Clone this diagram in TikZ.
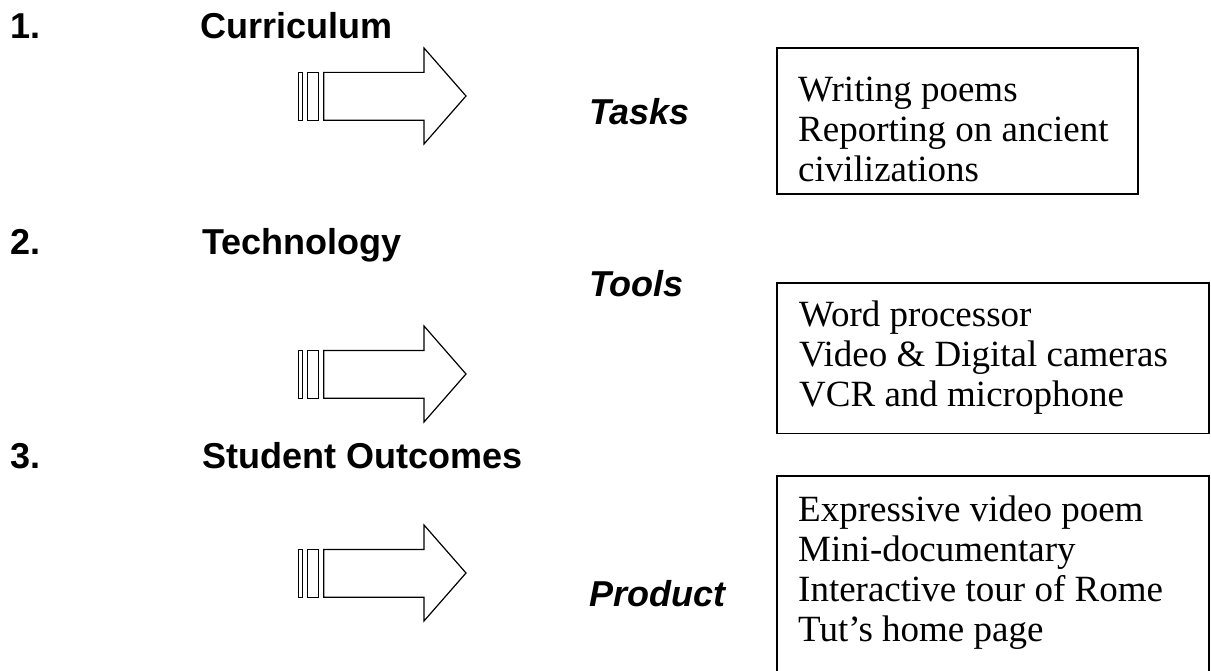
\documentclass[tikz,border=0pt]{standalone}
\usepackage{fontspec}
\setmainfont{Liberation Serif}
\newfontfamily\headfont{Liberation Sans}
\begin{document}
\begin{tikzpicture}[x=1pt,y=-1pt,
  heading/.style={anchor=base west,inner sep=0pt,font=\headfont\bfseries\fontsize{36}{40}\selectfont},
  label/.style={anchor=base west,inner sep=0pt,font=\headfont\bfseries\itshape\fontsize{36}{40}\selectfont},
  listbox/.style={draw,line width=1.8pt,inner sep=0pt,outer sep=0pt,anchor=north west},
  listtext/.style={anchor=base west,inner sep=0pt,font=\fontsize{37}{40}\selectfont},
  arrowline/.style={draw,line width=1.2pt,line join=miter}]
\useasboundingbox (0,0) rectangle (1211,671);

% section headings
\node[heading] (n1) at (10,39) {1.};
\node[heading] (h1) at (200,39) {Curriculum};
\node[heading] (n2) at (10,255) {2.};
\node[heading] (h2) at (202,255) {Technology};
\node[heading] (n3) at (10,468) {3.};
\node[heading] (h3) at (202,468) {Student Outcomes};

% italic labels
\node[label] (tasks) at (589,125) {Tasks};
\node[label] (tools) at (589,297) {Tools};
\node[label] (product) at (589,606) {Product};

% block arrows: two thin bars followed by a hollow arrow
\foreach \c in {96,374,573} {
  \draw[arrowline] (298.4,\c-23.6) rectangle (302.8,\c+24.2);
  \draw[arrowline] (307.8,\c-23.6) rectangle (318.8,\c+24.2);
  \draw[arrowline] (323.8,\c-23.6) -- (424,\c-23.6) -- (424,\c-48) -- (466,\c)
    -- (424,\c+48) -- (424,\c+24.2) -- (323.8,\c+24.2) -- cycle;
}

% list boxes
\node[listbox,minimum width=361,minimum height=146] (b1) at (777,48) {};
\node[listbox,minimum width=432,minimum height=150.5] (b2) at (777,283) {};
\node[listbox,minimum width=432,minimum height=200] (b3) at (777,476) {};

\node[listtext] (t1) at (798,101.7) {\begin{tabular}[t]{@{}l@{}}Writing poems\\Reporting on ancient\\civilizations\end{tabular}};
\node[listtext] (t2) at (799,326.7) {\begin{tabular}[t]{@{}l@{}}Word processor\\Video \& Digital cameras\\VCR and microphone\end{tabular}};
\node[listtext] (t3) at (798,521) {\begin{tabular}[t]{@{}l@{}}Expressive video poem\\Mini-documentary\\Interactive tour of Rome\\Tut’s home page\end{tabular}};
\end{tikzpicture}
\end{document}
